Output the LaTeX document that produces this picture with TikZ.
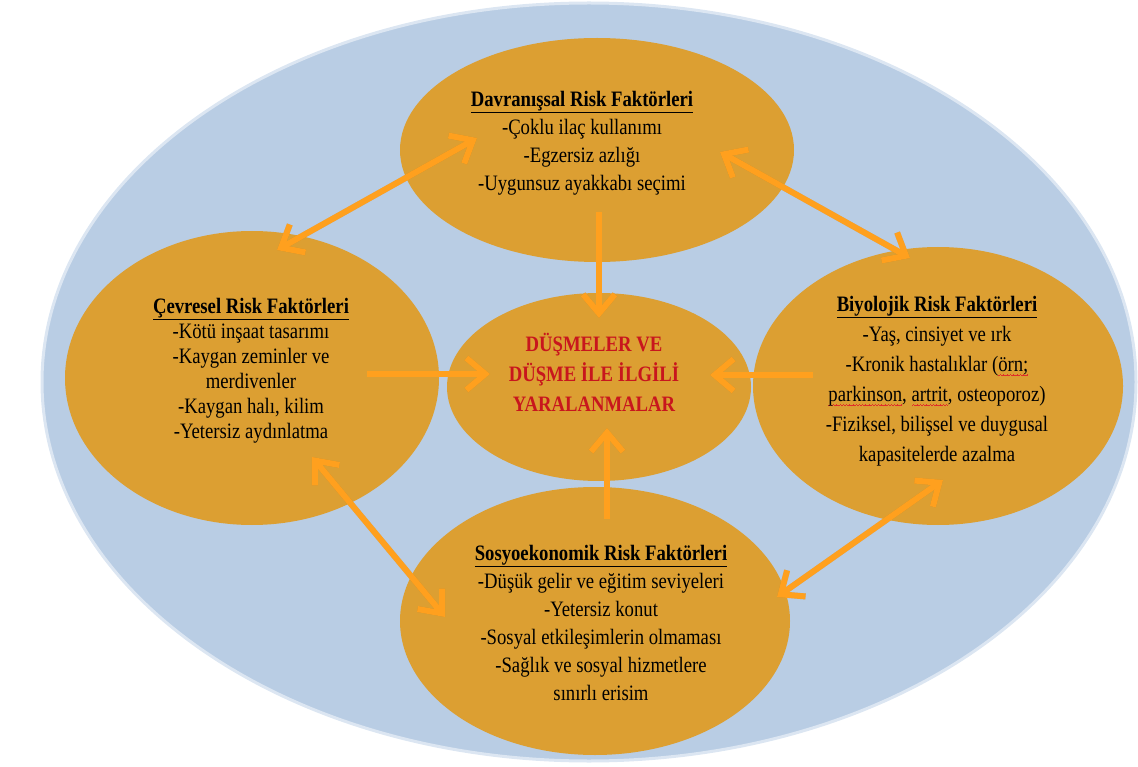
\documentclass[tikz,border=0pt]{standalone}
\usepackage{fontspec}
\setmainfont{Liberation Serif}[FakeStretch=0.85]
\usetikzlibrary{shapes.geometric,arrows.meta}

\definecolor{panelblue}{HTML}{B9CDE4}
\definecolor{panelrim}{HTML}{DCE6F2}
\definecolor{factorfill}{HTML}{DC9F32}
\definecolor{arroworange}{HTML}{FFA01E}
\definecolor{alertred}{HTML}{C8161D}
\definecolor{spellred}{HTML}{E0302A}

% wavy red mark under a word (spell-check style), built from tiny squares
\newsavebox\spellbox
\newcommand\spellwave{\hbox{%
  \rule[-5pt]{0.8pt}{0.9pt}\rule[-4.2pt]{0.8pt}{0.9pt}%
  \rule[-3.4pt]{0.8pt}{0.9pt}\rule[-4.2pt]{0.8pt}{0.9pt}}}
\newcommand\spellmark[1]{\sbox\spellbox{#1}%
  \rlap{\hbox to\wd\spellbox{\color{spellred}\xleaders\spellwave\hfill}}%
  \usebox\spellbox}

\begin{document}
\begin{tikzpicture}[x=1pt,y=-1pt,
  panel/.style={ellipse, fill=panelblue, draw=panelrim, line width=3pt, inner sep=0pt},
  factorell/.style={ellipse, fill=factorfill, inner sep=0pt},
  factortext/.style={align=center, font=\fontsize{22}{28}\selectfont, inner sep=0pt},
  linkarrow/.style={draw=arroworange, line width=6pt},
  linkshadow/.style={draw=black, opacity=0.10, line width=6pt, shift={(1.5,1.5)}},
  >={Straight Barb[length=19pt,width=32pt]}]

\useasboundingbox (0,0) rectangle (1138,767);

% outer panel
\node[panel, minimum width=1094pt, minimum height=758pt] (panel) at (589,382) {};

% factor ellipses
\node[factorell, minimum width=394pt, minimum height=224pt] (behav) at (597,150) {};
\node[factorell, minimum width=374pt, minimum height=294pt] (env)   at (252,378) {};
\node[factorell, minimum width=370pt, minimum height=278pt] (bio)   at (938,386) {};
\node[factorell, minimum width=304pt, minimum height=188pt] (falls) at (599,387) {};
\node[factorell, minimum width=390pt, minimum height=268pt] (socio) at (595,621) {};

% arrow end points
\coordinate (behavW) at (477,138);  \coordinate (envN)   at (277,250);
\coordinate (behavE) at (720,152);  \coordinate (bioN)   at (910,258);
\coordinate (behavS) at (599,212);  \coordinate (fallsN) at (599,318);
\coordinate (envE)   at (367,374);  \coordinate (fallsW) at (490,374);
\coordinate (bioW)   at (813,375);  \coordinate (fallsE) at (710,375);
\coordinate (socioN) at (607,519);  \coordinate (fallsS) at (607,428);
\coordinate (envS)   at (312,457);  \coordinate (socioW) at (445,617);
\coordinate (socioE) at (777,597);  \coordinate (bioS)   at (943,480);

% connectors: soft shadow first, then the orange arrow
\foreach \s/\e/\tip in {behavW/envN/<->, behavE/bioN/<->, behavS/fallsN/->,
                        envE/fallsW/->, bioW/fallsE/->, socioN/fallsS/->,
                        envS/socioW/<->, socioE/bioS/<->}{
  \draw[linkshadow,\tip] (\s) -- (\e);
  \draw[linkarrow,\tip] (\s) -- (\e);
}

% texts
\node[factortext] (behavtxt) at (582,143)
  {\underline{\textbf{Davranışsal Risk Faktörleri}}\\
   -Çoklu ilaç kullanımı\\
   -Egzersiz azlığı\\
   -Uygunsuz ayakkabı seçimi};

\node[factortext, font=\fontsize{22}{25}\selectfont] (envtxt) at (251,371)
  {\underline{\textbf{Çevresel Risk Faktörleri}}\\
   -Kötü inşaat tasarımı\\
   -Kaygan zeminler ve\\
   merdivenler\\
   -Kaygan halı, kilim\\
   -Yetersiz aydınlatma};

\node[factortext, font=\fontsize{22}{30}\selectfont] (biotxt) at (937,381)
  {\underline{\textbf{Biyolojik Risk Faktörleri}}\\
   -Yaş, cinsiyet ve ırk\\
   -Kronik hastalıklar (\spellmark{örn;}\\
   \spellmark{parkinson}, \spellmark{artrit}, osteoporoz)\\
   -Fiziksel, bilişsel ve duygusal\\
   kapasitelerde azalma};

\node[factortext] (sociotxt) at (601,623)
  {\underline{\textbf{Sosyoekonomik Risk Faktörleri}}\\
   -Düşük gelir ve eğitim seviyeleri\\
   -Yetersiz konut\\
   -Sosyal etkileşimlerin olmaması\\
   -Sağlık ve sosyal hizmetlere\\
   sınırlı erisim};

\node[factortext, text=alertred, font=\fontsize{22}{30}\selectfont\bfseries] (fallstxt) at (594,372)
  {DÜŞMELER VE\\
   DÜŞME İLE İLGİLİ\\
   YARALANMALAR};

\end{tikzpicture}
\end{document}
